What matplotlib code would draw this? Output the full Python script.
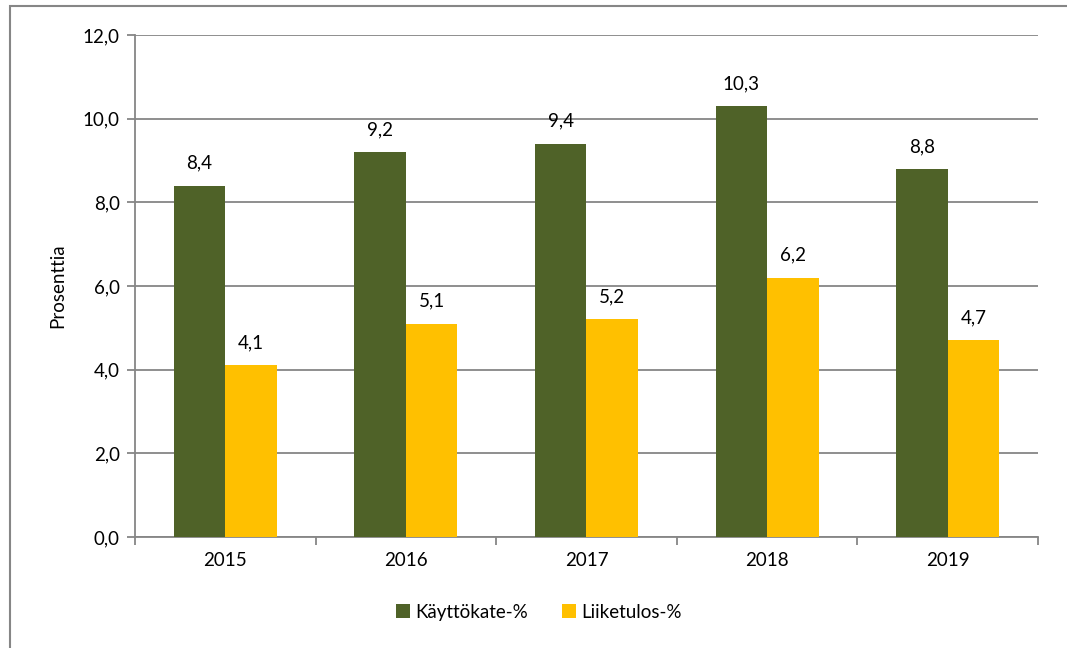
import numpy as np
import matplotlib.pyplot as plt
import matplotlib.ticker as ticker
from matplotlib.patches import Rectangle

# DATA
years = ['2015', '2016', '2017', '2018', '2019']
kayttokate = [8.4, 9.2, 9.4, 10.3, 8.8]
liiketulos = [4.1, 5.1, 5.2, 6.2, 4.7]

GREEN = '#4F6228'
YELLOW = '#FFC000'
GRID = '#868686'
FS = 13.5

plt.rcParams['font.family'] = ['Lato', 'DejaVu Sans']

fig = plt.figure(figsize=(10.67, 6.48), dpi=100)
ax = fig.add_axes([0.1265, 0.1713, 0.8463, 0.7747])

# outer chart border
fig.patches.append(Rectangle((10 / 1067, -0.01), 1.0, 1 - 6 / 648 + 0.01,
                             transform=fig.transFigure, fill=False,
                             edgecolor=GRID, linewidth=1.5))

x = np.arange(len(years))
w = 0.285
b1 = ax.bar(x - w / 2, kayttokate, w, color=GREEN, label='Käyttökate-%', zorder=3)
b2 = ax.bar(x + w / 2, liiketulos, w, color=YELLOW, label='Liiketulos-%', zorder=3)

for bars, vals in [(b1, kayttokate), (b2, liiketulos)]:
    for bar, v in zip(bars, vals):
        ax.annotate(f'{v:.1f}'.replace('.', ','),
                    (bar.get_x() + bar.get_width() / 2, bar.get_height()),
                    xytext=(0, 10), textcoords='offset points',
                    ha='center', va='bottom', fontsize=FS, color='black')

ax.set_xlim(-0.5, len(years) - 0.5)
ax.set_ylim(0, 12)
ax.yaxis.set_major_locator(ticker.MultipleLocator(2))
ax.yaxis.set_major_formatter(ticker.FuncFormatter(lambda v, p: f'{v:.1f}'.replace('.', ',')))
ax.set_xticks(x)
ax.set_xticklabels(years)
ax.set_xticks(np.arange(-0.5, len(years)), minor=True)
ax.tick_params(axis='x', which='major', length=0, pad=11, labelsize=FS)
ax.tick_params(axis='x', which='minor', length=6, color=GRID, width=1.3)
ax.tick_params(axis='y', length=6, color=GRID, width=1.3, labelsize=FS, pad=5)

ax.grid(axis='y', color=GRID, linewidth=1.3, zorder=0)
ax.set_axisbelow(True)
for s in ['top', 'right']:
    ax.spines[s].set_visible(False)
for s in ['left', 'bottom']:
    ax.spines[s].set_color(GRID)
    ax.spines[s].set_linewidth(1.3)

ax.set_ylabel('Prosenttia', fontsize=FS, labelpad=12)

fig.legend(handles=[b1, b2], loc='center', bbox_to_anchor=(0.505, 0.055),
           ncol=2, frameon=False, fontsize=FS, handlelength=0.75,
           handleheight=0.75, handletextpad=0.3, columnspacing=1.8)

fig.savefig('out.png', dpi=100)
